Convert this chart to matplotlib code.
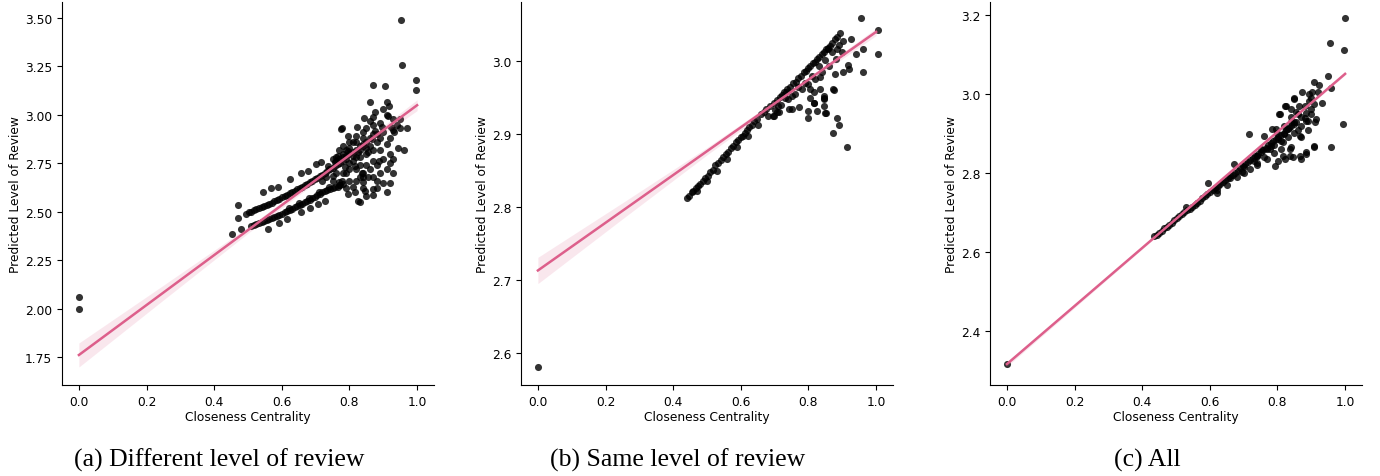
import matplotlib
matplotlib.use("Agg")
import matplotlib.pyplot as plt
import numpy as np

# ---- panel (a): different level of review ----
a_outliers = [(0.0, 2.06), (0.0, 1.995)]
a_upper_stripe = [(0.495, 2.49), (0.51, 2.50), (0.525, 2.512), (0.54, 2.525), (0.555, 2.535),
                  (0.57, 2.547), (0.585, 2.56), (0.60, 2.575), (0.615, 2.588), (0.63, 2.60),
                  (0.645, 2.615), (0.66, 2.63), (0.675, 2.645), (0.69, 2.66), (0.705, 2.675),
                  (0.72, 2.69), (0.735, 2.71), (0.75, 2.728), (0.765, 2.745), (0.78, 2.76),
                  (0.503, 2.497), (0.518, 2.508), (0.533, 2.52), (0.548, 2.53), (0.563, 2.542),
                  (0.578, 2.555), (0.593, 2.568), (0.608, 2.582), (0.623, 2.595), (0.638, 2.608),
                  (0.653, 2.623), (0.668, 2.638), (0.683, 2.652), (0.698, 2.668), (0.713, 2.683),
                  (0.728, 2.70), (0.743, 2.72), (0.758, 2.737), (0.772, 2.752)]
a_lower_stripe = [(0.51, 2.428), (0.525, 2.435), (0.54, 2.445), (0.555, 2.455), (0.57, 2.465),
                  (0.585, 2.477), (0.60, 2.49), (0.615, 2.503), (0.63, 2.515), (0.645, 2.528),
                  (0.66, 2.54), (0.675, 2.555), (0.69, 2.57), (0.705, 2.585), (0.72, 2.60),
                  (0.735, 2.61), (0.75, 2.62), (0.765, 2.63), (0.78, 2.645),
                  (0.518, 2.432), (0.533, 2.44), (0.548, 2.45), (0.563, 2.46), (0.578, 2.471),
                  (0.593, 2.484), (0.608, 2.497), (0.623, 2.51), (0.638, 2.522), (0.653, 2.534),
                  (0.668, 2.548), (0.683, 2.562), (0.698, 2.578), (0.713, 2.592), (0.728, 2.605),
                  (0.743, 2.615), (0.758, 2.625), (0.772, 2.638),
                  (0.62, 2.52), (0.65, 2.545), (0.68, 2.57), (0.71, 2.60), (0.74, 2.625), (0.77, 2.652)]
a_scatter = [(0.544, 2.60), (0.568, 2.62), (0.59, 2.627), (0.623, 2.67), (0.658, 2.70), (0.678, 2.712),
             (0.702, 2.746), (0.717, 2.757), (0.559, 2.41), (0.593, 2.44), (0.616, 2.46), (0.658, 2.50),
             (0.682, 2.52), (0.707, 2.54), (0.729, 2.557), (0.47, 2.534), (0.47, 2.469), (0.479, 2.41),
             (0.454, 2.385), (0.774, 2.927), (0.821, 2.937), (0.797, 2.893), (0.876, 2.918), (0.931, 2.91),
             (0.945, 2.83), (0.92, 2.80), (0.886, 2.763), (0.871, 2.763), (0.881, 2.66), (0.871, 2.617),
             (0.846, 2.608), (0.826, 2.557), (0.797, 2.59), (0.841, 2.651), (0.856, 2.677), (0.836, 2.70),
             (0.816, 2.737), (0.786, 2.73), (0.777, 2.66), (0.797, 2.815), (0.826, 2.806), (0.856, 2.806),
             (0.866, 2.875), (0.90, 2.91), (0.841, 2.84), (0.81, 2.858), (0.767, 2.79), (0.757, 2.755),
             (0.737, 2.737), (0.752, 2.686), (0.76, 2.78), (0.78, 2.80), (0.79, 2.77), (0.80, 2.83),
             (0.81, 2.79), (0.82, 2.86), (0.83, 2.82), (0.84, 2.88), (0.85, 2.86), (0.86, 2.84),
             (0.87, 2.90), (0.88, 2.86), (0.89, 2.88), (0.80, 2.75), (0.82, 2.72), (0.83, 2.68),
             (0.85, 2.74), (0.79, 2.70), (0.80, 2.66), (0.84, 2.62), (0.87, 2.585), (0.91, 2.60),
             (0.92, 2.65), (0.93, 2.70), (0.96, 2.82), (0.83, 2.55), (0.815, 2.60)]
a_blob = [(0.75, 2.77), (0.77, 2.77), (0.78, 2.78), (0.79, 2.79), (0.80, 2.80), (0.81, 2.81), (0.82, 2.82),
          (0.83, 2.84), (0.84, 2.85), (0.85, 2.83), (0.76, 2.76), (0.79, 2.82), (0.81, 2.76), (0.83, 2.78),
          (0.85, 2.80), (0.87, 2.82), (0.86, 2.88), (0.88, 2.90), (0.82, 2.89), (0.84, 2.91), (0.80, 2.86),
          (0.78, 2.84), (0.77, 2.82), (0.83, 2.74), (0.84, 2.70), (0.86, 2.72), (0.87, 2.68), (0.88, 2.74),
          (0.90, 2.77), (0.89, 2.82), (0.91, 2.85), (0.92, 2.88), (0.93, 2.92), (0.94, 2.95), (0.95, 2.98),
          (0.93, 2.98), (0.91, 3.00), (0.89, 2.96), (0.87, 2.95), (0.85, 2.93), (0.86, 2.97), (0.82, 2.78),
          (0.80, 2.72), (0.78, 2.70), (0.76, 2.70), (0.74, 2.72), (0.73, 2.68), (0.72, 2.66), (0.75, 2.66),
          (0.77, 2.64), (0.79, 2.62), (0.81, 2.63), (0.82, 2.66), (0.84, 2.68), (0.85, 2.58), (0.88, 2.62),
          (0.90, 2.65), (0.97, 2.93), (0.95, 2.93), (0.89, 2.70), (0.91, 2.72), (0.92, 2.75), (0.93, 2.77)]
a_top = [(0.952, 3.49), (0.955, 3.258), (0.998, 3.181), (0.998, 3.13), (0.87, 3.155), (0.904, 3.15),
         (0.862, 3.065), (0.911, 3.065), (0.918, 3.047), (0.876, 3.016), (0.90, 3.03), (0.843, 2.984),
         (0.871, 2.99), (0.913, 2.992), (0.777, 2.93), (0.896, 2.937), (0.923, 2.937)]
a_fit = (1.76, 3.05)          # fitted value at x=0 and x=1
a_ci_x = [0.0, 0.25, 0.5, 0.75, 1.0]
a_ci_half = [0.062, 0.038, 0.016, 0.012, 0.028]

# ---- panel (b): same level of review ----
b_outliers = [(0.0, 2.581)]
b_upper_row = [(0.441, 2.812), (0.455, 2.82), (0.467, 2.826), (0.48, 2.832), (0.495, 2.84), (0.51, 2.848),
               (0.525, 2.857), (0.54, 2.865), (0.555, 2.873), (0.57, 2.881), (0.585, 2.889), (0.60, 2.896),
               (0.611, 2.902), (0.625, 2.91), (0.64, 2.918), (0.66, 2.927), (0.675, 2.934), (0.699, 2.943),
               (0.715, 2.951), (0.728, 2.957), (0.738, 2.962), (0.755, 2.97), (0.77, 2.977), (0.786, 2.985),
               (0.80, 2.99), (0.812, 2.997), (0.825, 3.003), (0.84, 3.01), (0.852, 3.016), (0.864, 3.021),
               (0.878, 3.03), (0.893, 3.039)]
b_mid_row = [(0.448, 2.815), (0.46, 2.822), (0.474, 2.829), (0.487, 2.836), (0.502, 2.843), (0.517, 2.851),
             (0.532, 2.86), (0.547, 2.868), (0.562, 2.876), (0.577, 2.884), (0.592, 2.892), (0.605, 2.898),
             (0.618, 2.905), (0.632, 2.913), (0.648, 2.921), (0.668, 2.93), (0.687, 2.938), (0.707, 2.946),
             (0.722, 2.953), (0.733, 2.958), (0.746, 2.965), (0.762, 2.972), (0.778, 2.98), (0.793, 2.987),
             (0.806, 2.993), (0.818, 2.999), (0.832, 3.006), (0.846, 3.013), (0.858, 3.018), (0.871, 3.025),
             (0.885, 3.033)]
b_lower_row = [(0.47, 2.822), (0.50, 2.836), (0.53, 2.85), (0.56, 2.866), (0.59, 2.882), (0.62, 2.898),
               (0.65, 2.912), (0.68, 2.925), (0.70, 2.933), (0.72, 2.94), (0.74, 2.948), (0.76, 2.955),
               (0.78, 2.962), (0.80, 2.968), (0.82, 2.976), (0.84, 2.985), (0.86, 2.993), (0.88, 3.003),
               (0.90, 3.012), (0.73, 2.95), (0.77, 2.965), (0.81, 2.98), (0.83, 2.993), (0.85, 3.002),
               (0.87, 3.012), (0.89, 3.022), (0.71, 2.938), (0.75, 2.952), (0.79, 2.97), (0.835, 2.978)]
b_scatter = [(0.694, 2.925), (0.708, 2.930), (0.743, 2.935), (0.772, 2.937), (0.799, 2.931), (0.799, 2.922),
             (0.825, 2.931), (0.852, 2.929), (0.874, 2.902), (0.815, 2.943), (0.845, 2.950), (0.874, 2.962),
             (0.903, 2.985), (0.920, 2.989), (0.961, 3.016), (0.961, 2.985), (1.005, 3.010), (1.005, 3.042),
             (0.954, 3.059), (0.878, 2.982), (0.835, 2.962), (0.845, 2.952), (0.806, 2.962), (0.903, 3.028),
             (0.927, 3.030), (0.883, 3.016), (0.859, 3.016), (0.913, 2.882), (0.891, 2.912), (0.883, 2.922),
             (0.849, 2.929), (0.845, 2.939), (0.845, 2.948), (0.876, 2.961), (0.917, 2.994), (0.815, 2.957),
             (0.806, 2.949), (0.815, 2.943), (0.752, 2.934), (0.713, 2.930), (0.699, 2.925), (0.94, 3.01)]
b_fit = (2.713, 3.040)
b_ci_x = [0.0, 0.25, 0.5, 0.75, 1.0]
b_ci_half = [0.018, 0.011, 0.005, 0.003, 0.005]

# ---- panel (c): all ----
c_outliers = [(0.0, 2.316)]
c_line_pts = [(0.435, 2.64), (0.45, 2.648), (0.465, 2.66), (0.48, 2.668), (0.495, 2.68), (0.51, 2.69),
              (0.525, 2.70), (0.54, 2.71), (0.555, 2.72), (0.57, 2.73), (0.585, 2.742), (0.60, 2.752),
              (0.615, 2.762), (0.63, 2.772), (0.645, 2.782), (0.66, 2.792), (0.675, 2.80), (0.69, 2.812),
              (0.705, 2.822), (0.72, 2.832), (0.735, 2.843), (0.75, 2.853), (0.765, 2.864), (0.78, 2.875),
              (0.795, 2.886), (0.81, 2.897), (0.825, 2.908), (0.84, 2.92), (0.855, 2.93), (0.87, 2.942),
              (0.885, 2.952), (0.90, 2.963), (0.62, 2.758), (0.66, 2.786), (0.70, 2.814), (0.74, 2.842),
              (0.78, 2.868), (0.82, 2.898),
              (0.443, 2.644), (0.458, 2.654), (0.473, 2.664), (0.488, 2.674), (0.503, 2.685), (0.518, 2.695),
              (0.533, 2.705), (0.548, 2.715), (0.563, 2.725), (0.578, 2.736), (0.593, 2.747), (0.608, 2.757),
              (0.623, 2.767), (0.638, 2.777), (0.653, 2.787), (0.668, 2.796), (0.683, 2.806), (0.698, 2.817),
              (0.713, 2.827), (0.728, 2.838), (0.743, 2.848), (0.758, 2.858), (0.773, 2.87), (0.788, 2.88),
              (0.803, 2.892), (0.818, 2.902), (0.833, 2.914), (0.848, 2.925)]
c_scatter = [(0.531, 2.713), (0.594, 2.774), (0.672, 2.823), (0.715, 2.899), (0.759, 2.894), (0.797, 2.911),
             (0.807, 2.949), (0.826, 2.970), (0.850, 2.987), (0.874, 3.004), (0.894, 3.000), (0.908, 2.975),
             (0.908, 2.869), (0.884, 2.852), (0.867, 2.844), (0.867, 2.894), (0.841, 2.865), (0.836, 2.844),
             (0.821, 2.835), (0.802, 2.831), (0.792, 2.818), (0.768, 2.835), (0.739, 2.825), (0.696, 2.802),
             (0.778, 2.861), (0.817, 2.878), (0.850, 2.928), (0.831, 2.911), (0.884, 2.932), (0.855, 2.954),
             (1.0, 3.192), (0.997, 3.112), (0.955, 3.129), (0.948, 3.045), (0.908, 3.031), (0.923, 3.024),
             (0.957, 3.014), (0.903, 3.004), (0.921, 3.004), (0.850, 2.990), (0.894, 2.983), (0.932, 2.977),
             (0.821, 2.970), (0.841, 2.962), (0.864, 2.970), (0.889, 2.932), (0.913, 2.937), (0.805, 2.949),
             (0.841, 2.941), (0.870, 2.890), (0.908, 2.867), (0.884, 2.848), (0.870, 2.835), (0.846, 2.840),
             (0.836, 2.861), (0.817, 2.844), (0.739, 2.844), (0.783, 2.911), (0.802, 2.886), (0.994, 2.924),
             (0.959, 2.866)]
c_below = [(0.62, 2.75), (0.65, 2.77), (0.68, 2.79), (0.70, 2.80), (0.72, 2.81), (0.74, 2.82), (0.76, 2.84),
           (0.73, 2.83), (0.77, 2.86), (0.79, 2.87), (0.81, 2.88), (0.80, 2.90), (0.82, 2.92), (0.84, 2.93),
           (0.86, 2.95), (0.88, 2.97), (0.90, 2.99), (0.86, 2.91), (0.88, 2.94), (0.90, 2.95), (0.83, 2.89),
           (0.85, 2.90), (0.87, 2.92), (0.89, 2.91), (0.91, 2.93), (0.75, 2.86), (0.79, 2.85), (0.81, 2.86)]
c_fit = (2.316, 3.051)
c_ci_x = [0.0, 0.25, 0.5, 0.75, 1.0]
c_ci_half = [0.006, 0.004, 0.002, 0.002, 0.003]

panels = [
    dict(groups=[a_outliers, a_upper_stripe, a_lower_stripe, a_scatter, a_blob, a_top], fit=a_fit,
         ci_x=a_ci_x, ci_half=a_ci_half, ylim=(1.605, 3.583), yticks=np.arange(1.75, 3.51, 0.25),
         yfmt="%.2f", caption="(a) Different level of review", left=62),
    dict(groups=[b_outliers, b_upper_row, b_mid_row, b_lower_row, b_scatter], fit=b_fit,
         ci_x=b_ci_x, ci_half=b_ci_half, ylim=(2.556, 3.081), yticks=np.arange(2.6, 3.01, 0.1),
         yfmt="%.1f", caption="(b) Same level of review", left=521),
    dict(groups=[c_outliers, c_line_pts, c_scatter, c_below], fit=c_fit,
         ci_x=c_ci_x, ci_half=c_ci_half, ylim=(2.263, 3.233), yticks=np.arange(2.4, 3.21, 0.2),
         yfmt="%.1f", caption="(c) All", left=990),
]

line_color = "#dd5f8b"
W, H = 1380, 477
fig = plt.figure(figsize=(W / 100, H / 100), dpi=100)

for p in panels:
    ax = fig.add_axes([p["left"] / W, (H - 386) / H, 372 / W, 383 / H])
    pts = np.array([xy for g in p["groups"] for xy in g])
    ax.scatter(pts[:, 0], pts[:, 1], s=26, color="black", alpha=0.8, linewidths=0, zorder=2)

    fx = np.array([0.0, 1.0])
    fy = np.array(p["fit"])
    cx = np.array(p["ci_x"])
    cy = np.interp(cx, fx, fy)
    ch = np.array(p["ci_half"])
    ax.fill_between(cx, cy - ch, cy + ch, color=line_color, alpha=0.15, linewidth=0, zorder=3)
    ax.plot(fx, fy, color=line_color, lw=1.8, zorder=4)

    ax.set_xlim(-0.05, 1.05)
    ax.set_ylim(*p["ylim"])
    ax.set_xticks(np.arange(0, 1.01, 0.2))
    ax.set_yticks(p["yticks"])
    ax.yaxis.set_major_formatter(matplotlib.ticker.FormatStrFormatter(p["yfmt"]))
    ax.tick_params(labelsize=8.8)
    ax.set_xlabel("Closeness Centrality", fontsize=8.8, labelpad=2)
    ax.set_ylabel("Predicted Level of Review", fontsize=8.8, labelpad=2)
    ax.spines["top"].set_visible(False)
    ax.spines["right"].set_visible(False)

    fig.text((p["left"] + 157) / W, 1 - 460 / H, p["caption"], ha="center", va="center",
             fontsize=18.5, family="Liberation Serif")

fig.savefig("out.png", dpi=100)
